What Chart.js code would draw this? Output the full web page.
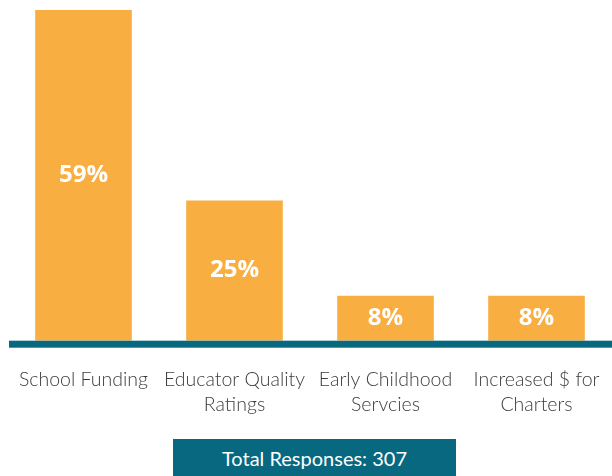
<!DOCTYPE html>
<html>
<head>
<meta charset="utf-8">
<script src="https://cdn.jsdelivr.net/npm/chart.js@4/dist/chart.umd.min.js"></script>
<style>
  html, body { margin: 0; padding: 0; background: #ffffff; }
  #wrap { position: relative; width: 612px; height: 476px; overflow: hidden; }
  #total {
    position: absolute; left: 173px; top: 439px; width: 283px; height: 40px;
    background: #08687F; color: #ffffff;
    font-family: Lato, "Open Sans", sans-serif; font-size: 20px;
    line-height: 38px; text-align: center;
  }
</style>
</head>
<body>
<div id="wrap">
  <canvas id="chart" width="612" height="476"></canvas>
  <div id="total">Total Responses: 307</div>
</div>
<script>
// Survey answers, share of respondents (%)
const categories = [
  ['School Funding'],
  ['Educator Quality', 'Ratings'],
  ['Early Childhood', 'Servcies'],
  ['Increased $ for', 'Charters']
];
const shares = [59, 25, 8, 8];

const BAR_COLOR = '#F9AE42';
const BASE_COLOR = '#08687F';

// Thick baseline under the bars, running to the right edge
const baseline = {
  id: 'baseline',
  afterDatasetsDraw(chart) {
    const { ctx, chartArea } = chart;
    ctx.save();
    ctx.fillStyle = BASE_COLOR;
    ctx.fillRect(chartArea.left + 1, chartArea.bottom, chart.width - chartArea.left, 7);
    ctx.restore();
  }
};

// Percentage labels centred inside each bar
const barLabels = {
  id: 'barLabels',
  afterDatasetsDraw(chart) {
    const { ctx } = chart;
    const meta = chart.getDatasetMeta(0);
    ctx.save();
    ctx.fillStyle = '#ffffff';
    ctx.font = 'bold 24px "Open Sans", Lato, sans-serif';
    ctx.textAlign = 'center';
    ctx.textBaseline = 'middle';
    meta.data.forEach((bar, i) => {
      const v = chart.data.datasets[0].data[i];
      const mid = (bar.y + bar.base) / 2;
      ctx.fillText(v + '%', bar.x, mid);
    });
    ctx.restore();
  }
};

new Chart(document.getElementById('chart'), {
  type: 'bar',
  data: {
    labels: categories,
    datasets: [{
      data: shares,
      backgroundColor: BAR_COLOR,
      borderWidth: 0,
      categoryPercentage: 1,
      barPercentage: 0.64
    }]
  },
  options: {
    responsive: false,
    animation: false,
    events: [],
    layout: { padding: { left: 8, right: 0, top: 10, bottom: 59 } },
    plugins: { legend: { display: false }, tooltip: { enabled: false } },
    scales: {
      x: {
        grid: {
          display: true,
          drawOnChartArea: false,
          drawTicks: true,
          tickLength: 26,
          color: 'rgba(0,0,0,0)'
        },
        border: { display: false },
        ticks: {
          color: '#3C3C3C',
          font: { family: 'Lato, "Open Sans", sans-serif', size: 19.5, weight: '300', lineHeight: 1.29 },
          padding: 0,
          maxRotation: 0,
          autoSkip: false
        }
      },
      y: {
        display: false,
        min: 0,
        max: 59
      }
    }
  },
  plugins: [baseline, barLabels]
});
</script>
</body>
</html>
